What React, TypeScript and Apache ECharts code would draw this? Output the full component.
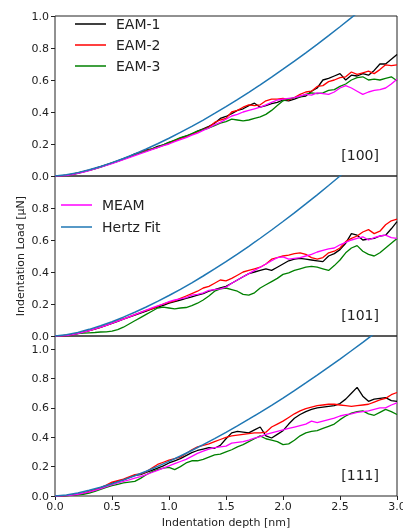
import React, { useEffect, useRef } from "react";
import * as echarts from "echarts";

const depth = [0,0.05,0.1,0.15,0.2,0.25,0.3,0.35,0.4,0.45,0.5,0.55,0.6,0.65,0.7,0.75,0.8,0.85,0.9,0.95,1.0,1.05,1.1,1.15,1.2,1.25,1.3,1.35,1.4,1.45,1.5,1.55,1.6,1.65,1.7,1.75,1.8,1.85,1.9,1.95,2.0,2.05,2.1,2.15,2.2,2.25,2.3,2.35,2.4,2.45,2.5,2.55,2.6,2.65,2.7,2.75,2.8,2.85,2.9,2.95,3.0];

// [100]
const eam1_100 = [0,0.001,0.005,0.011,0.019,0.028,0.037,0.047,0.058,0.07,0.082,0.094,0.108,0.121,0.138,0.15,0.163,0.17,0.185,0.195,0.21,0.22,0.237,0.25,0.262,0.28,0.295,0.31,0.33,0.36,0.372,0.39,0.41,0.42,0.44,0.455,0.43,0.44,0.452,0.46,0.475,0.47,0.48,0.495,0.5,0.53,0.55,0.6,0.61,0.625,0.64,0.6,0.63,0.625,0.64,0.63,0.66,0.7,0.7,0.73,0.76];
const eam2_100 = [0,0.001,0.004,0.01,0.018,0.027,0.036,0.046,0.057,0.069,0.081,0.093,0.106,0.118,0.133,0.146,0.158,0.168,0.178,0.192,0.205,0.222,0.235,0.245,0.26,0.275,0.29,0.305,0.335,0.35,0.36,0.4,0.41,0.43,0.445,0.44,0.445,0.47,0.48,0.48,0.485,0.475,0.49,0.51,0.525,0.53,0.56,0.565,0.59,0.6,0.615,0.62,0.65,0.635,0.645,0.655,0.64,0.665,0.695,0.69,0.695];
const eam3_100 = [0,0,0.003,0.009,0.017,0.026,0.035,0.045,0.056,0.068,0.08,0.092,0.105,0.12,0.132,0.145,0.155,0.168,0.18,0.195,0.21,0.225,0.24,0.25,0.265,0.28,0.29,0.3,0.315,0.33,0.34,0.355,0.35,0.345,0.35,0.36,0.37,0.385,0.41,0.44,0.47,0.48,0.49,0.495,0.51,0.52,0.515,0.52,0.535,0.54,0.56,0.575,0.6,0.615,0.62,0.6,0.605,0.6,0.61,0.62,0.595];
const meam_100 = [0,0,0.003,0.009,0.016,0.025,0.034,0.044,0.055,0.066,0.078,0.09,0.102,0.115,0.128,0.14,0.152,0.165,0.178,0.19,0.2,0.215,0.228,0.24,0.255,0.268,0.285,0.3,0.32,0.335,0.355,0.375,0.385,0.4,0.41,0.42,0.43,0.445,0.46,0.475,0.48,0.485,0.49,0.5,0.51,0.505,0.52,0.515,0.51,0.525,0.55,0.565,0.55,0.53,0.51,0.525,0.535,0.54,0.55,0.575,0.605];

// [101]
const eam1_101 = [0,0,0.003,0.008,0.015,0.024,0.033,0.043,0.054,0.066,0.079,0.092,0.105,0.118,0.13,0.143,0.155,0.17,0.18,0.192,0.205,0.215,0.225,0.235,0.245,0.255,0.265,0.28,0.29,0.3,0.31,0.33,0.35,0.37,0.39,0.4,0.41,0.42,0.41,0.43,0.45,0.47,0.48,0.485,0.48,0.475,0.47,0.465,0.5,0.515,0.54,0.58,0.64,0.63,0.6,0.605,0.61,0.625,0.63,0.67,0.715];
const eam2_101 = [0,0,0.003,0.009,0.016,0.025,0.034,0.045,0.056,0.068,0.08,0.094,0.107,0.12,0.133,0.147,0.16,0.17,0.185,0.2,0.21,0.22,0.235,0.25,0.265,0.28,0.3,0.31,0.33,0.35,0.345,0.36,0.38,0.4,0.41,0.42,0.43,0.45,0.48,0.49,0.5,0.505,0.515,0.52,0.51,0.49,0.48,0.49,0.52,0.53,0.55,0.59,0.61,0.625,0.65,0.665,0.64,0.655,0.695,0.72,0.73];
const eam3_101 = [0,0,0.005,0.01,0.015,0.018,0.02,0.022,0.025,0.026,0.03,0.04,0.055,0.075,0.095,0.115,0.135,0.155,0.175,0.18,0.175,0.17,0.175,0.178,0.19,0.205,0.225,0.25,0.28,0.295,0.3,0.29,0.28,0.26,0.255,0.27,0.3,0.32,0.34,0.36,0.385,0.395,0.41,0.42,0.43,0.435,0.43,0.42,0.41,0.44,0.475,0.52,0.55,0.565,0.53,0.51,0.5,0.52,0.55,0.58,0.61];
const meam_101 = [0,0,0.003,0.008,0.015,0.024,0.034,0.044,0.055,0.067,0.08,0.093,0.106,0.12,0.134,0.148,0.162,0.176,0.188,0.2,0.215,0.225,0.232,0.24,0.255,0.26,0.27,0.285,0.29,0.295,0.305,0.33,0.35,0.37,0.39,0.41,0.43,0.45,0.47,0.49,0.495,0.48,0.485,0.49,0.5,0.51,0.525,0.535,0.545,0.55,0.57,0.585,0.6,0.61,0.62,0.6,0.615,0.625,0.63,0.615,0.61];

// [111]
const eam1_111 = [0,0,0.002,0.006,0.012,0.02,0.03,0.042,0.055,0.07,0.088,0.1,0.11,0.125,0.14,0.145,0.16,0.175,0.19,0.205,0.225,0.24,0.255,0.275,0.295,0.31,0.32,0.33,0.325,0.345,0.39,0.43,0.44,0.435,0.43,0.45,0.47,0.41,0.395,0.42,0.445,0.49,0.53,0.555,0.575,0.59,0.6,0.605,0.61,0.615,0.63,0.66,0.7,0.74,0.68,0.645,0.66,0.665,0.67,0.65,0.645];
const eam2_111 = [0,0,0.002,0.006,0.012,0.02,0.03,0.042,0.057,0.075,0.095,0.105,0.115,0.13,0.145,0.15,0.165,0.19,0.215,0.23,0.245,0.255,0.265,0.29,0.315,0.335,0.345,0.355,0.37,0.385,0.4,0.41,0.415,0.42,0.425,0.43,0.43,0.435,0.47,0.49,0.51,0.535,0.56,0.58,0.595,0.605,0.615,0.62,0.625,0.625,0.62,0.615,0.61,0.615,0.62,0.625,0.64,0.655,0.665,0.69,0.705];
const eam3_111 = [0,0,0.002,0.004,0.007,0.012,0.02,0.032,0.045,0.058,0.07,0.08,0.09,0.095,0.1,0.12,0.145,0.165,0.18,0.19,0.195,0.18,0.2,0.225,0.24,0.24,0.25,0.265,0.28,0.285,0.3,0.315,0.335,0.35,0.37,0.39,0.41,0.39,0.38,0.37,0.35,0.355,0.38,0.41,0.43,0.44,0.445,0.46,0.475,0.49,0.52,0.545,0.565,0.575,0.58,0.56,0.55,0.57,0.59,0.575,0.555];
const meam_111 = [0,0,0.002,0.006,0.012,0.019,0.028,0.038,0.05,0.063,0.078,0.09,0.1,0.11,0.122,0.132,0.145,0.16,0.175,0.19,0.205,0.22,0.235,0.25,0.27,0.29,0.305,0.32,0.33,0.335,0.34,0.36,0.365,0.37,0.38,0.395,0.405,0.42,0.43,0.44,0.45,0.46,0.47,0.48,0.49,0.51,0.5,0.51,0.52,0.53,0.545,0.555,0.56,0.57,0.575,0.58,0.59,0.6,0.6,0.62,0.635];

// Hertz fits, read at 0.1 nm steps
const hertzDepth = [0,0.1,0.2,0.3,0.4,0.5,0.6,0.7,0.8,0.9,1.0,1.1,1.2,1.3,1.4,1.5,1.6,1.7,1.8,1.9,2.0,2.1,2.2,2.3,2.4,2.5,2.6,2.7,2.8,2.9,3.0];
const hertz100 = [0,0.0075,0.0211,0.0388,0.0597,0.0834,0.1097,0.1382,0.1689,0.2015,0.236,0.2723,0.3102,0.3498,0.3909,0.4336,0.4776,0.5231,0.5699,0.6181,0.6675,0.7182,0.7701,0.8232,0.8775,0.9329,0.9894,1.047,1.1057,1.1655,1.2263];
const hertz101 = [0,0.008,0.0226,0.0416,0.064,0.0895,0.1176,0.1482,0.181,0.216,0.253,0.2919,0.3326,0.375,0.4191,0.4648,0.512,0.5608,0.611,0.6626,0.7156,0.7699,0.8256,0.8825,0.9407,1.0001,1.0607,1.1225,1.1854,1.2494,1.3146];
const hertz111 = [0,0.0075,0.0211,0.0388,0.0597,0.0834,0.1097,0.1382,0.1689,0.2015,0.236,0.2723,0.3102,0.3498,0.3909,0.4336,0.4776,0.5231,0.5699,0.6181,0.6675,0.7182,0.7701,0.8232,0.8775,0.9329,0.9894,1.047,1.1057,1.1655,1.2263];

const panelLabels = ["[100]", "[101]", "[111]"];
const yMax = [1.0, 1.0, 1.09];
const seriesNames = ["EAM-1", "EAM-2", "EAM-3", "MEAM"];
const seriesColors = ["#000000", "#ff0000", "#008000", "#ff00ff"];
const hertzColor = "#1f77b4";

const panels = [
  { data: [eam1_100, eam2_100, eam3_100, meam_100], hertz: hertz100 },
  { data: [eam1_101, eam2_101, eam3_101, meam_101], hertz: hertz101 },
  { data: [eam1_111, eam2_111, eam3_111, meam_111], hertz: hertz111 },
];

const FONT = "DejaVu Sans";
const GRID_LEFT = 55;
const GRID_W = 342;
const GRID_TOP = 16;
const GRID_H = 160;

export default function App() {
  const ref = useRef<HTMLDivElement>(null);
  useEffect(() => {
    if (!ref.current) return;
    const chart = echarts.init(ref.current, null, { renderer: "svg" });
    const grids = [0, 1, 2].map((i) => ({
      left: GRID_LEFT,
      width: GRID_W,
      top: GRID_TOP + GRID_H * i,
      height: GRID_H,
      show: true,
      borderColor: "#222",
      borderWidth: 1,
      backgroundColor: "transparent",
      containLabel: false,
      outerBoundsMode: "none",
    }));
    const xAxes = [0, 1, 2].map((i) => ({
      type: "value",
      gridIndex: i,
      min: 0,
      max: 3,
      interval: 0.5,
      axisLine: { show: false },
      axisTick: { show: i === 2, length: 4, lineStyle: { color: "#222" } },
      axisLabel: {
        show: i === 2,
        formatter: (v: number) => v.toFixed(1),
        margin: 5,
        fontSize: 11,
        color: "#222",
        fontFamily: FONT,
      },
      splitLine: { show: false },
    }));
    const yAxes = [0, 1, 2].map((i) => ({
      type: "value",
      gridIndex: i,
      min: 0,
      max: yMax[i],
      interval: 0.2,
      axisLine: { show: false },
      axisTick: { show: true, length: 4, lineStyle: { color: "#222" } },
      axisLabel: {
        showMaxLabel: i === 0,
        formatter: (v: number) => (Math.abs(v / 0.2 - Math.round(v / 0.2)) < 1e-6 ? v.toFixed(1) : ""),
        margin: 6,
        fontSize: 11,
        color: "#222",
        fontFamily: FONT,
      },
      splitLine: { show: false },
    }));
    const series: any[] = [];
    panels.forEach((p, i) => {
      p.data.forEach((vals, k) => {
        series.push({
          type: "line",
          name: seriesNames[k],
          xAxisIndex: i,
          yAxisIndex: i,
          data: depth.map((d, j) => [d, vals[j]]),
          symbol: "none",
          lineStyle: { color: seriesColors[k], width: 1.3 },
          itemStyle: { color: seriesColors[k] },
          clip: true,
        });
      });
      series.push({
        type: "line",
        name: "Hertz Fit",
        xAxisIndex: i,
        yAxisIndex: i,
        data: hertzDepth.map((d, j) => [d, p.hertz[j]]),
        symbol: "none",
        lineStyle: { color: hertzColor, width: 1.5 },
        itemStyle: { color: hertzColor },
        clip: true,
      });
    });
    const legendCommon = {
      orient: "vertical",
      padding: 0,
      icon: "rect",
      itemWidth: 31,
      itemHeight: 1.5,
      itemGap: 7,
      textStyle: { fontSize: 14, color: "#222", fontFamily: FONT, padding: [0, 0, 0, 5] },
      selectedMode: false,
    };
    const option: any = {
      animation: false,
      textStyle: { fontFamily: FONT },
      grid: grids,
      xAxis: xAxes,
      yAxis: yAxes,
      legend: [
        { ...legendCommon, data: ["EAM-1", "EAM-2", "EAM-3"], left: 75, top: 17 },
        { ...legendCommon, data: ["MEAM", "Hertz Fit"], left: 61, top: 198, itemGap: 8 },
      ],
      series,
      graphic: [
        ...panelLabels.map((t, i) => ({
          type: "text",
          x: 379,
          y: 155 + GRID_H * i,
          style: {
            text: t,
            align: "right",
            verticalAlign: "middle",
            font: `14px "${FONT}"`,
            fill: "#222",
          },
        })),
        {
          type: "text",
          x: 20,
          y: 256,
          rotation: Math.PI / 2,
          style: {
            text: "Indentation Load [μN]",
            align: "center",
            verticalAlign: "middle",
            font: `11px "${FONT}"`,
            fill: "#222",
          },
        },
        {
          type: "text",
          x: 226,
          y: 522,
          style: {
            text: "Indentation depth [nm]",
            align: "center",
            verticalAlign: "middle",
            font: `11px "${FONT}"`,
            fill: "#222",
          },
        },
      ],
    };
    chart.setOption(option);
    return () => chart.dispose();
  }, []);
  return (
    <div
      ref={ref}
      style={{ position: "fixed", left: 0, top: 0, width: 403, height: 532 }}
    />
  );
}
